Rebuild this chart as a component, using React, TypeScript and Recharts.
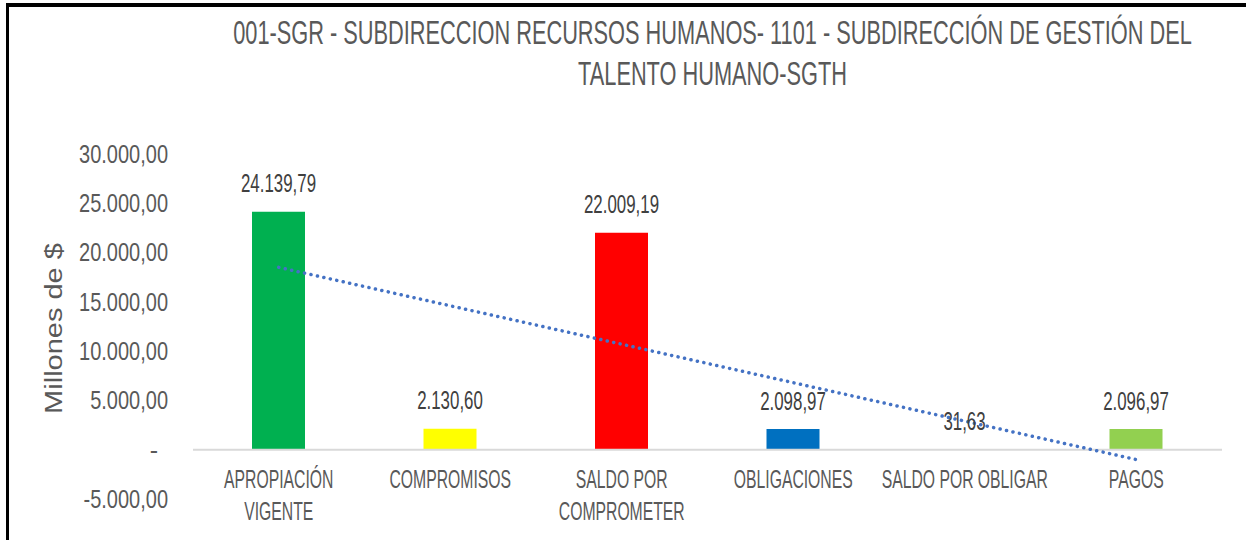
import { Bar, Cell, ComposedChart, LabelList, Line, ReferenceLine, XAxis, YAxis } from "recharts";

const categories = [
  "APROPIACIÓN\nVIGENTE",
  "COMPROMISOS",
  "SALDO POR\nCOMPROMETER",
  "OBLIGACIONES",
  "SALDO POR OBLIGAR",
  "PAGOS",
];
const values = [24139.79, 2130.6, 22009.19, 2098.97, 31.63, 2096.97];
const barColors = ["#00B050", "#FFFF00", "#FF0000", "#0070C0", "#7030A0", "#92D050"];
// linear trendline
const trend = [18500, 14600, 10700, 6800, 2900, -1000];
const yTicks = [-5000, 0, 5000, 10000, 15000, 20000, 25000, 30000];
const titleLines = [
  "001-SGR - SUBDIRECCION RECURSOS HUMANOS- 1101 - SUBDIRECCIÓN DE GESTIÓN DEL",
  "TALENTO HUMANO-SGTH",
];

const data = categories.map((c, i) => ({ name: c, value: values[i], trend: trend[i] }));

const FONT = "'Liberation Sans', Arial, sans-serif";
const GRAY = "#595959";

/** 24.139,79 style (es-CO) */
function fmt(v: number) {
  const [i, d] = Math.abs(v).toFixed(2).split(".");
  return (v < 0 ? "-" : "") + i.replace(/\B(?=(\d{3})+(?!\d))/g, ".") + "," + d;
}

function YTick({ x, y, payload }: any) {
  const v = payload.value as number;
  if (v === 0) {
    return (
      <text x={x - 10} y={y} dy="0.355em" textAnchor="end" fontFamily={FONT} fontSize={25} fill={GRAY}>
        -
      </text>
    );
  }
  return (
    <g transform={`translate(${x},${y}) scale(0.8,1)`}>
      <text x={0} y={0} dy="0.355em" textAnchor="end" fontFamily={FONT} fontSize={25} fill={GRAY}>
        {fmt(v)}
      </text>
    </g>
  );
}

function XTick({ x, y, payload }: any) {
  const lines = String(payload.value).split("\n");
  return (
    <g transform={`translate(${x},${y - 19}) scale(0.63,1)`}>
      {lines.map((l, i) => (
        <text key={i} x={0} y={i * 32} textAnchor="middle" fontFamily={FONT} fontSize={25} fill={GRAY}>
          {l}
        </text>
      ))}
    </g>
  );
}

function BarLabel({ x, y, width, value }: any) {
  return (
    <g transform={`translate(${x + width / 2},${y - 19.5}) scale(0.675,1)`}>
      <text x={0} y={0} textAnchor="middle" fontFamily={FONT} fontSize={25} fill="#404040">
        {fmt(value)}
      </text>
    </g>
  );
}

export default function App() {
  return (
    <div style={{ position: "absolute", left: 0, top: 0, width: 1246, height: 540, overflow: "hidden", background: "#fff" }}>
      <div
        style={{
          position: "absolute",
          left: 6,
          top: 3,
          width: 1300,
          height: 600,
          borderTop: "4px solid #000",
          borderLeft: "3px solid #000",
        }}
      />
      <ComposedChart
        width={1246}
        height={540}
        data={data}
        margin={{ top: 154, right: 24, left: 0, bottom: 0 }}
        style={{ position: "absolute", left: 0, top: 0 }}
      >
        <XAxis dataKey="name" height={41} axisLine={false} tickLine={false} interval={0} tick={<XTick />} />
        <YAxis
          width={193}
          domain={[-5000, 30000]}
          ticks={yTicks}
          axisLine={false}
          tickLine={false}
          tickMargin={19}
          tick={<YTick />}
        />
        <ReferenceLine y={0} stroke="#d9d9d9" strokeWidth={2} />
        <Bar dataKey="value" barSize={53} isAnimationActive={false}>
          {data.map((_, i) => (
            <Cell key={i} fill={barColors[i]} />
          ))}
          <LabelList dataKey="value" content={<BarLabel />} />
        </Bar>
        <Line
          dataKey="trend"
          type="linear"
          stroke="#4472C4"
          strokeWidth={3.5}
          strokeDasharray="0.1 6.5"
          strokeLinecap="round"
          dot={false}
          activeDot={false}
          isAnimationActive={false}
        />
      </ComposedChart>
      <svg width={1246} height={540} style={{ position: "absolute", left: 0, top: 0, pointerEvents: "none" }}>
        {titleLines.map((t, i) => (
          <g key={i} transform={`translate(712.5,${44 + i * 41}) scale(0.66,1)`}>
            <text x={0} y={0} textAnchor="middle" fontFamily={FONT} fontSize={33} fill={GRAY}>
              {t}
            </text>
          </g>
        ))}
        <g transform="translate(62,328.5) scale(0.8,1) rotate(-90)">
          <text x={0} y={0} textAnchor="middle" fontFamily={FONT} fontSize={29} fill={GRAY}>
            Millones de $
          </text>
        </g>
      </svg>
    </div>
  );
}
